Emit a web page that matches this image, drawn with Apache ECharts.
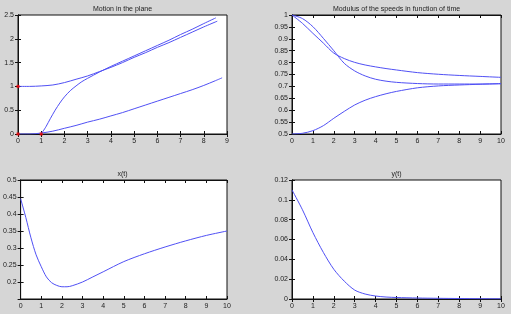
<!DOCTYPE html>
<html><head><meta charset="utf-8">
<script src="https://cdn.jsdelivr.net/npm/echarts@6/dist/echarts.min.js"></script>
<style>html,body{margin:0;padding:0;background:#d6d6d6}#c{width:511px;height:314px}</style>
</head><body><div id="c"></div>
<script>
// Titles
const titles = ["Motion in the plane", "Modulus of the speeds in function of time", "x(t)", "y(t)"];
// Motion in the plane (three trajectories)
const tlA_x = [0,0.5,1,1.5,2,2.5,3,3.5,4,4.5,5,5.5,6,6.5,7,7.5,8,8.58];
const tlA_y = [1,1.0,1.01,1.03,1.08,1.15,1.22,1.31,1.40,1.50,1.61,1.71,1.82,1.92,2.03,2.14,2.25,2.37];
const tlB_x = [1,1.2,1.4,1.6,1.8,2,2.25,2.5,2.75,3,3.5,4,4.5,5,5.5,6,6.5,7,7.5,8,8.52];
const tlB_y = [0,0.15,0.33,0.5,0.65,0.78,0.91,1.01,1.1,1.17,1.3,1.42,1.53,1.64,1.75,1.86,1.97,2.09,2.2,2.32,2.44];
const tlC_x = [0,0.5,1,1.5,2,2.5,3,3.5,4,4.5,5,5.5,6,6.5,7,7.5,8,8.5,8.79];
const tlC_y = [0,0,0.02,0.06,0.12,0.18,0.25,0.31,0.38,0.45,0.53,0.61,0.69,0.77,0.85,0.93,1.02,1.12,1.18];
const startX = [0,1,0];
const startY = [0,0,1];
// Speeds
const tSpeed = [0,0.5,1,1.5,2,2.5,3,3.5,4,4.5,5,6,7,8,9,10];
const speedE = [1,0.985,0.951,0.902,0.85,0.797,0.765,0.744,0.73,0.722,0.717,0.712,0.71,0.71,0.71,0.711];
const speedF = [1,0.965,0.923,0.882,0.84,0.817,0.801,0.79,0.782,0.775,0.769,0.758,0.751,0.746,0.742,0.738];
const speedG = [0.5,0.503,0.514,0.535,0.566,0.595,0.622,0.642,0.657,0.669,0.679,0.694,0.702,0.706,0.709,0.712];
// x(t)
const tX = [0,0.25,0.5,0.75,1,1.25,1.5,1.75,2,2.25,2.5,3,3.5,4,5,6,7,8,9,10];
const xT = [0.445,0.39,0.33,0.28,0.245,0.215,0.198,0.19,0.186,0.186,0.189,0.2,0.215,0.23,0.26,0.283,0.303,0.321,0.337,0.35];
// y(t)
const tY = [0,0.5,1,1.5,2,2.5,3,3.5,4,4.5,5,6,7,8,9,10];
const yT = [0.11,0.09,0.067,0.047,0.03,0.018,0.009,0.005,0.003,0.002,0.0015,0.001,0.0007,0.0005,0.0003,0.0002];

const pairs = (xs, ys) => xs.map((x, i) => [x, ys[i]]);
const FONT = 'Liberation Sans';
const grids = [
  {left: 18, top: 15, width: 209, height: 119},
  {left: 292, top: 15, width: 209, height: 119},
  {left: 18, top: 180, width: 209, height: 119},
  {left: 292, top: 180, width: 209, height: 119}
];
const xr = [[0,9,1],[0,10,1],[0,10,1],[0,10,1]];
const yr = [[0,2.5,0.5],[0.5,1,0.05],[0.15,0.5,0.05],[0,0.12,0.02]];
const fmt = v => String(+v.toFixed(3));
const xAxis = [], yAxis = [];
grids.forEach((g, i) => {
  const base = {
    type: 'value', gridIndex: i, splitLine: {show: false},
    axisLine: {show: true, lineStyle: {color: '#111', width: 1}},
    axisTick: {show: true, inside: true, length: 3, lineStyle: {color: '#111'}},
    axisLabel: {fontFamily: FONT, fontSize: 7, color: '#222', margin: 4}
  };
  xAxis.push(Object.assign({}, base, {position: 'bottom', min: xr[i][0], max: xr[i][1], interval: xr[i][2],
    axisLabel: Object.assign({}, base.axisLabel, {formatter: fmt})}));
  xAxis.push(Object.assign({}, base, {position: 'top', min: xr[i][0], max: xr[i][1], interval: xr[i][2], axisLabel: {show: false}}));
  yAxis.push(Object.assign({}, base, {position: 'left', min: yr[i][0], max: yr[i][1], interval: yr[i][2],
    axisLabel: Object.assign({}, base.axisLabel, {formatter: v => (i === 2 && v < 0.17) ? '' : fmt(v)})}));
  yAxis.push(Object.assign({}, base, {position: 'right', min: yr[i][0], max: yr[i][1], interval: yr[i][2], axisLabel: {show: false}}));
});
const BLUE = '#5050f4';
const line = (gi, data) => ({
  type: 'line', xAxisIndex: 2*gi, yAxisIndex: 2*gi, data, showSymbol: false, smooth: 0.3,
  lineStyle: {color: BLUE, width: 1}, animation: false, silent: true
});
const option = {
  backgroundColor: '#d6d6d6',
  animation: false,
  title: titles.map((t, i) => ({
    text: t, left: grids[i].left + grids[i].width / 2, top: grids[i].top - 9, textAlign: 'center', padding: 0,
    textStyle: {fontFamily: FONT, fontSize: 7, fontWeight: 'normal', color: '#222'}
  })),
  grid: grids.map(g => Object.assign({show: true, backgroundColor: '#fff', borderColor: '#111', borderWidth: 1}, g)),
  xAxis, yAxis,
  series: [
    line(0, pairs(tlA_x, tlA_y)),
    line(0, pairs(tlB_x, tlB_y)),
    line(0, pairs(tlC_x, tlC_y)),
    {type: 'scatter', xAxisIndex: 0, yAxisIndex: 0, data: pairs(startX, startY), symbol: 'rect', symbolSize: 3,
     itemStyle: {color: '#ff0000'}, z: 5, silent: true},
    line(1, pairs(tSpeed, speedE)),
    line(1, pairs(tSpeed, speedF)),
    line(1, pairs(tSpeed, speedG)),
    line(2, pairs(tX, xT)),
    line(3, pairs(tY, yT))
  ]
};
const chart = echarts.init(document.getElementById('c'), null, {renderer: 'canvas'});
chart.setOption(option);
</script>
</body></html>
